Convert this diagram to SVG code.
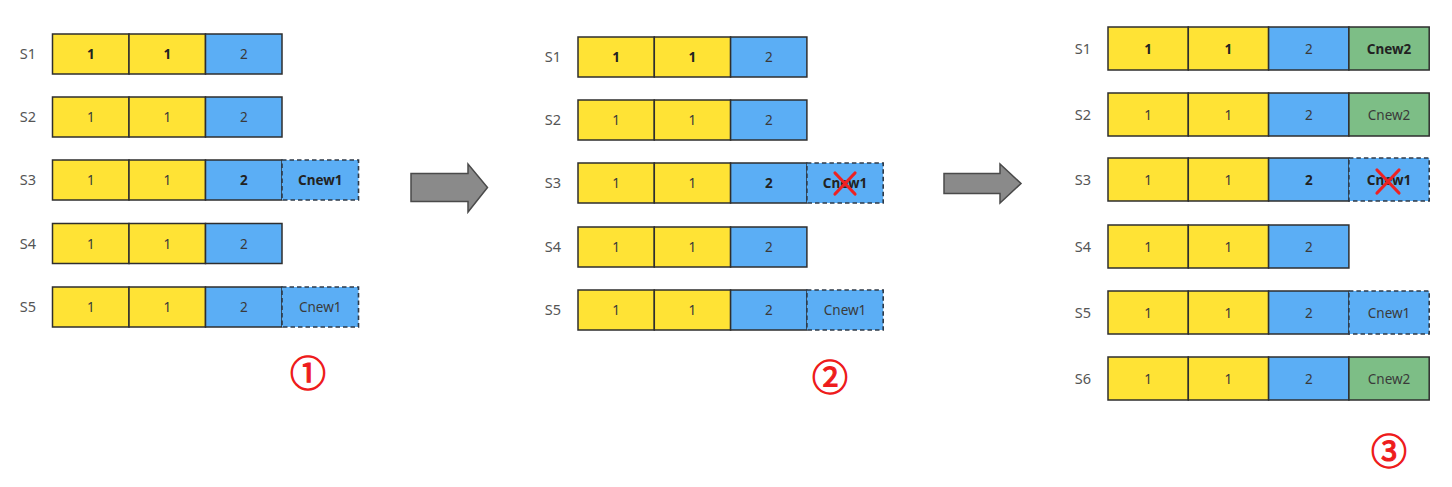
<svg xmlns="http://www.w3.org/2000/svg" width="1452" height="487" viewBox="0 0 1452 487">
<style>
.bg{fill:#ffffff}
.c{stroke:#2e2e2e;stroke-width:1.5}
.y{fill:#FFE335}
.b{fill:#5BAEF5}
.g{fill:#7DBE86}
.d{fill:#5BAEF5;stroke:#2e3a48;stroke-width:1.6;stroke-dasharray:4.5 3}
.t{font-family:"Noto Sans","Open Sans","DejaVu Sans",sans-serif;font-size:13.5px;fill:#3a3a3a;text-anchor:middle}
.tb{font-weight:bold;fill:#222}
.lab{font-family:"Noto Sans","Open Sans","DejaVu Sans",sans-serif;font-size:14.5px;fill:#555;text-anchor:middle}
.num{font-family:"Noto Sans CJK SC","DejaVu Sans",sans-serif;font-size:36px;font-weight:normal;fill:#ee1c1c;stroke:#ee1c1c;stroke-width:1.1;text-anchor:middle}
.x{stroke:#ee2222;stroke-width:3.2;stroke-linecap:round}
.arr{fill:#8a8a8a;stroke:#4a4a4a;stroke-width:1.5;stroke-linejoin:miter}
</style>
<rect class="bg" x="0" y="0" width="1452" height="487"/>

<!-- Panel 1 -->
<g id="p1-s1">
<text class="lab" x="28" y="59">S1</text>
<rect class="c y" x="52.5" y="34" width="76.5" height="40"/>
<rect class="c y" x="129" y="34" width="76.5" height="40"/>
<rect class="c b" x="205.5" y="34" width="76.5" height="40"/>
<text class="t tb" x="90.75" y="59">1</text>
<text class="t tb" x="167.25" y="59">1</text>
<text class="t" x="243.75" y="59">2</text>
</g>
<g id="p1-s2">
<text class="lab" x="28" y="122">S2</text>
<rect class="c y" x="52.5" y="97" width="76.5" height="40"/>
<rect class="c y" x="129" y="97" width="76.5" height="40"/>
<rect class="c b" x="205.5" y="97" width="76.5" height="40"/>
<text class="t" x="90.75" y="122">1</text>
<text class="t" x="167.25" y="122">1</text>
<text class="t" x="243.75" y="122">2</text>
</g>
<g id="p1-s3">
<text class="lab" x="28" y="185">S3</text>
<rect class="c y" x="52.5" y="160" width="76.5" height="40"/>
<rect class="c y" x="129" y="160" width="76.5" height="40"/>
<rect class="c b" x="205.5" y="160" width="76.5" height="40"/>
<rect class="d" x="282" y="160" width="76.5" height="40"/>
<text class="t" x="90.75" y="185">1</text>
<text class="t" x="167.25" y="185">1</text>
<text class="t tb" x="243.75" y="185">2</text>
<text class="t tb" x="320.25" y="185">Cnew1</text>
</g>
<g id="p1-s4">
<text class="lab" x="28" y="248.5">S4</text>
<rect class="c y" x="52.5" y="223.5" width="76.5" height="40"/>
<rect class="c y" x="129" y="223.5" width="76.5" height="40"/>
<rect class="c b" x="205.5" y="223.5" width="76.5" height="40"/>
<text class="t" x="90.75" y="248.5">1</text>
<text class="t" x="167.25" y="248.5">1</text>
<text class="t" x="243.75" y="248.5">2</text>
</g>
<g id="p1-s5">
<text class="lab" x="28" y="312">S5</text>
<rect class="c y" x="52.5" y="287" width="76.5" height="40"/>
<rect class="c y" x="129" y="287" width="76.5" height="40"/>
<rect class="c b" x="205.5" y="287" width="76.5" height="40"/>
<rect class="d" x="282" y="287" width="76.5" height="40"/>
<text class="t" x="90.75" y="312">1</text>
<text class="t" x="167.25" y="312">1</text>
<text class="t" x="243.75" y="312">2</text>
<text class="t" x="320.25" y="312">Cnew1</text>
</g>
<g id="step1"><text class="num" x="308" y="387">①</text></g>

<!-- Panel 2 -->
<g id="p2-s1">
<text class="lab" x="553" y="62">S1</text>
<rect class="c y" x="578" y="37" width="76.3" height="40"/>
<rect class="c y" x="654.3" y="37" width="76.3" height="40"/>
<rect class="c b" x="730.6" y="37" width="76.3" height="40"/>
<text class="t tb" x="616.15" y="62">1</text>
<text class="t tb" x="692.45" y="62">1</text>
<text class="t" x="768.75" y="62">2</text>
</g>
<g id="p2-s2">
<text class="lab" x="553" y="125">S2</text>
<rect class="c y" x="578" y="100" width="76.3" height="40"/>
<rect class="c y" x="654.3" y="100" width="76.3" height="40"/>
<rect class="c b" x="730.6" y="100" width="76.3" height="40"/>
<text class="t" x="616.15" y="125">1</text>
<text class="t" x="692.45" y="125">1</text>
<text class="t" x="768.75" y="125">2</text>
</g>
<g id="p2-s3">
<text class="lab" x="553" y="188">S3</text>
<rect class="c y" x="578" y="163" width="76.3" height="40"/>
<rect class="c y" x="654.3" y="163" width="76.3" height="40"/>
<rect class="c b" x="730.6" y="163" width="76.3" height="40"/>
<rect class="d" x="806.9" y="163" width="76.3" height="40"/>
<text class="t" x="616.15" y="188">1</text>
<text class="t" x="692.45" y="188">1</text>
<text class="t tb" x="768.75" y="188">2</text>
<text class="t tb" x="845.05" y="188">Cnew1</text>
<line class="x" x1="835" y1="173" x2="855" y2="194"/>
<line class="x" x1="855" y1="173" x2="835" y2="194"/>
</g>
<g id="p2-s4">
<text class="lab" x="553" y="252">S4</text>
<rect class="c y" x="578" y="227" width="76.3" height="40"/>
<rect class="c y" x="654.3" y="227" width="76.3" height="40"/>
<rect class="c b" x="730.6" y="227" width="76.3" height="40"/>
<text class="t" x="616.15" y="252">1</text>
<text class="t" x="692.45" y="252">1</text>
<text class="t" x="768.75" y="252">2</text>
</g>
<g id="p2-s5">
<text class="lab" x="553" y="315">S5</text>
<rect class="c y" x="578" y="290" width="76.3" height="40"/>
<rect class="c y" x="654.3" y="290" width="76.3" height="40"/>
<rect class="c b" x="730.6" y="290" width="76.3" height="40"/>
<rect class="d" x="806.9" y="290" width="76.3" height="40"/>
<text class="t" x="616.15" y="315">1</text>
<text class="t" x="692.45" y="315">1</text>
<text class="t" x="768.75" y="315">2</text>
<text class="t" x="845.05" y="315">Cnew1</text>
</g>
<g id="step2"><text class="num" x="830" y="391">②</text></g>

<!-- Panel 3 -->
<g id="p3-s1">
<text class="lab" x="1083" y="53.5">S1</text>
<rect class="c y" x="1108" y="27" width="80.3" height="43"/>
<rect class="c y" x="1188.3" y="27" width="80.3" height="43"/>
<rect class="c b" x="1268.6" y="27" width="80.3" height="43"/>
<rect class="c g" x="1348.9" y="27" width="80.3" height="43"/>
<text class="t tb" x="1148.15" y="53.5">1</text>
<text class="t tb" x="1228.45" y="53.5">1</text>
<text class="t" x="1308.75" y="53.5">2</text>
<text class="t tb" x="1389.05" y="53.5">Cnew2</text>
</g>
<g id="p3-s2">
<text class="lab" x="1083" y="119.5">S2</text>
<rect class="c y" x="1108" y="93" width="80.3" height="43"/>
<rect class="c y" x="1188.3" y="93" width="80.3" height="43"/>
<rect class="c b" x="1268.6" y="93" width="80.3" height="43"/>
<rect class="c g" x="1348.9" y="93" width="80.3" height="43"/>
<text class="t" x="1148.15" y="119.5">1</text>
<text class="t" x="1228.45" y="119.5">1</text>
<text class="t" x="1308.75" y="119.5">2</text>
<text class="t" x="1389.05" y="119.5">Cnew2</text>
</g>
<g id="p3-s3">
<text class="lab" x="1083" y="184.5">S3</text>
<rect class="c y" x="1108" y="158" width="80.3" height="43"/>
<rect class="c y" x="1188.3" y="158" width="80.3" height="43"/>
<rect class="c b" x="1268.6" y="158" width="80.3" height="43"/>
<rect class="d" x="1348.9" y="158" width="80.3" height="43"/>
<text class="t" x="1148.15" y="184.5">1</text>
<text class="t" x="1228.45" y="184.5">1</text>
<text class="t tb" x="1308.75" y="184.5">2</text>
<text class="t tb" x="1389.05" y="184.5">Cnew1</text>
<line class="x" x1="1377" y1="170" x2="1399" y2="193"/>
<line class="x" x1="1399" y1="170" x2="1377" y2="193"/>
</g>
<g id="p3-s4">
<text class="lab" x="1083" y="251.5">S4</text>
<rect class="c y" x="1108" y="225" width="80.3" height="43"/>
<rect class="c y" x="1188.3" y="225" width="80.3" height="43"/>
<rect class="c b" x="1268.6" y="225" width="80.3" height="43"/>
<text class="t" x="1148.15" y="251.5">1</text>
<text class="t" x="1228.45" y="251.5">1</text>
<text class="t" x="1308.75" y="251.5">2</text>
</g>
<g id="p3-s5">
<text class="lab" x="1083" y="317.5">S5</text>
<rect class="c y" x="1108" y="291" width="80.3" height="43"/>
<rect class="c y" x="1188.3" y="291" width="80.3" height="43"/>
<rect class="c b" x="1268.6" y="291" width="80.3" height="43"/>
<rect class="d" x="1348.9" y="291" width="80.3" height="43"/>
<text class="t" x="1148.15" y="317.5">1</text>
<text class="t" x="1228.45" y="317.5">1</text>
<text class="t" x="1308.75" y="317.5">2</text>
<text class="t" x="1389.05" y="317.5">Cnew1</text>
</g>
<g id="p3-s6">
<text class="lab" x="1083" y="383.5">S6</text>
<rect class="c y" x="1108" y="357" width="80.3" height="43"/>
<rect class="c y" x="1188.3" y="357" width="80.3" height="43"/>
<rect class="c b" x="1268.6" y="357" width="80.3" height="43"/>
<rect class="c g" x="1348.9" y="357" width="80.3" height="43"/>
<text class="t" x="1148.15" y="383.5">1</text>
<text class="t" x="1228.45" y="383.5">1</text>
<text class="t" x="1308.75" y="383.5">2</text>
<text class="t" x="1389.05" y="383.5">Cnew2</text>
</g>
<g id="step3"><text class="num" x="1389" y="465">③</text></g>

<!-- Arrows -->
<g id="connectors">
<polygon class="arr" points="411,173.5 468,173.5 468,164 487.5,187.5 468,212 468,201.5 411,201.5"/>
<polygon class="arr" points="944,173.5 1000,173.5 1000,164 1021,183.5 1000,203 1000,193.5 944,193.5"/>
</g>
</svg>
